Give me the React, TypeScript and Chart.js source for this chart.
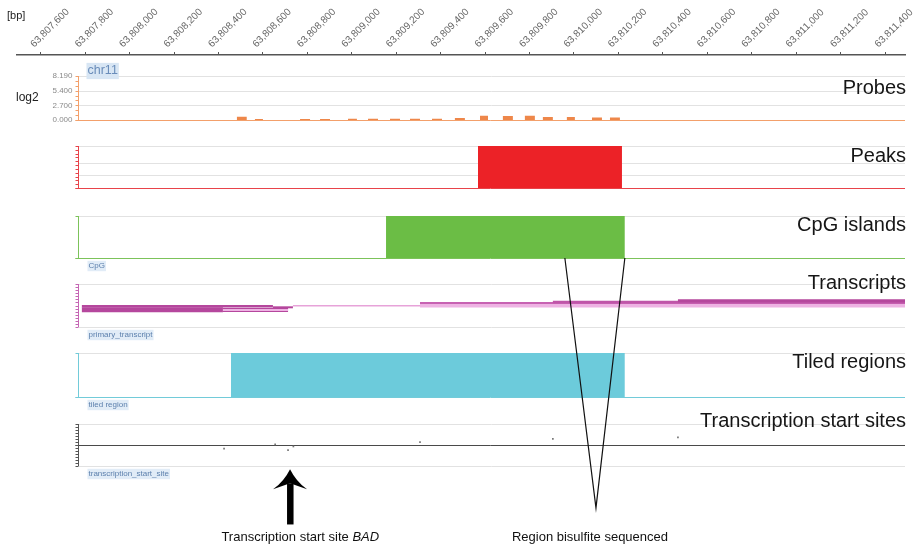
import React, { useEffect, useRef } from 'react';
import { Chart, registerables } from 'chart.js';

Chart.register(...registerables);

const FONT = '"Liberation Sans", Arial, Helvetica, sans-serif';

// ---- genomic x axis (bp) ----
const X_MIN = 63807493;
const X_MAX = 63811490;
const X_TICKS = [
  63807600, 63807800, 63808000, 63808200, 63808400, 63808600, 63808800, 63809000, 63809200, 63809400,
  63809600, 63809800, 63810000, 63810200, 63810400, 63810600, 63810800, 63811000, 63811200, 63811400,
];
const TRACK_AXIS_BP = 63807768;

// ---- Probes (log2) ----
const PROBE_START = [63808482, 63808564, 63808767, 63808857, 63808983, 63809073, 63809172, 63809262, 63809361, 63809464, 63809577, 63809680, 63809779, 63809860, 63809968, 63810081, 63810162];
const PROBE_END = [63808527, 63808600, 63808812, 63808902, 63809023, 63809118, 63809217, 63809307, 63809406, 63809509, 63809613, 63809725, 63809824, 63809905, 63810004, 63810126, 63810207];
const PROBE_LOG2 = [0.6, 0.2, 0.2, 0.2, 0.25, 0.25, 0.25, 0.25, 0.25, 0.35, 0.8, 0.75, 0.8, 0.55, 0.55, 0.45, 0.45];
const PROBE_TICK_LABELS = [0, 2.7, 5.4, 8.19];

// ---- Peaks / CpG islands / Tiled regions ----
const PEAK_START = [63809568];
const PEAK_END = [63810216];
const CPG_START = [63809154];
const CPG_END = [63810229];
const TILED_START = [63808456];
const TILED_END = [63810229];

// ---- Transcripts ----
const TX_START = [63809307, 63809307, 63809905, 63810468, 63808735, 63807785, 63807785, 63808420, 63808420, 63808645];
const TX_END = [63811600, 63811600, 63811600, 63811600, 63809307, 63808420, 63808645, 63808713, 63808713, 63808735];
const TX_LANE = [5.05, 5.58, 5.81, 6.09, 4.95, 4.0, 4.84, 3.95, 3.95, 4.58];
const TX_KIND = [0, 1, 2, 3, 4, 5, 6, 7, 8, 9];

// ---- Transcription start sites ----
const TSS_POS = [63808425, 63808655, 63808713, 63808737, 63809307, 63809905, 63810468];
const TSS_OFFSET = [-0.17, 0.03, -0.24, -0.07, 0.14, 0.29, 0.36];

// ---- annotations ----
const ARROW_BP = 63808722;
const ARROW_TEXT_BP = 63808768;
const REGION_BP = [63809959, 63810229];
const REGION_APEX_BP = 63810099;
const REGION_TEXT_BP = 63810072;

// ---------- styles ----------
const TX_STYLES = [
  { color: '#eeb3e3', width: 4.5 },
  { color: '#c761b2', width: 2 },
  { color: '#bf55a8', width: 2.5 },
  { color: '#b5479d', width: 3 },
  { color: '#e7a3d9', width: 1.5 },
  { color: '#b5479d', width: 5 },
  { color: '#b5479d', width: 2.5 },
  { color: '#b5479d', width: 4 },
  { color: '#eeb3e3', width: 2.2 },
  { color: '#b5479d', width: 2 },
];

const BANDS = [
  { id: 'gap0', h: 21, min: 0, max: 1 },
  { id: 'yProbes', h: 44, min: 0, max: 8.19 },
  { id: 'gap1', h: 26, min: 0, max: 1 },
  { id: 'yPeaks', h: 42, min: 0, max: 1 },
  { id: 'gap2', h: 28, min: 0, max: 1 },
  { id: 'yCpg', h: 42, min: 0, max: 1 },
  { id: 'gap3', h: 26, min: 0, max: 1 },
  { id: 'yTx', h: 43, min: 0, max: 10 },
  { id: 'gap4', h: 26, min: 0, max: 1 },
  { id: 'yTiled', h: 44, min: 0, max: 1 },
  { id: 'gap5', h: 27, min: 0, max: 1 },
  { id: 'yTss', h: 42, min: -1, max: 1 },
  { id: 'yAnnot', h: 79, min: 0, max: 1, reverse: true },
];

const even = (a: number, b: number, n: number) => Array.from({ length: n }, (_, i) => a + ((b - a) * i) / (n - 1));

const TRACKS = [
  { id: 'yProbes', title: 'Probes', titleDy: 12, color: '#f3a06b', grid: [2.7, 5.4, 8.19], base: 0, ticks: even(0, 8.19, 10), feature: '' },
  { id: 'yPeaks', title: 'Peaks', titleDy: 10, color: '#e8434a', grid: [0.3, 0.6, 1], base: 0, ticks: even(0, 1, 12), feature: '' },
  { id: 'yCpg', title: 'CpG islands', titleDy: 9, color: '#7cc35a', grid: [1], base: 0, ticks: [0, 1], feature: 'CpG' },
  { id: 'yTx', title: 'Transcripts', titleDy: -1, color: '#c566b4', grid: [0, 10], base: null, ticks: even(0, 10, 15), feature: 'primary_transcript' },
  { id: 'yTiled', title: 'Tiled regions', titleDy: 9, color: '#72cbd9', grid: [1], base: 0, ticks: [0, 1], feature: 'tiled region' },
  { id: 'yTss', title: 'Transcription start sites', titleDy: -3, color: '#555555', grid: [-1, 1], base: null, ticks: even(-1, 1, 15), feature: 'transcription_start_site' },
];

function rectPoints(starts: number[], ends: number[], heights: number[]) {
  const pts: { x: number; y: number }[] = [];
  starts.forEach((s, i) => {
    const e = ends[i];
    const v = heights[i];
    pts.push({ x: s, y: 0 }, { x: s, y: v }, { x: e, y: v }, { x: e, y: 0 });
  });
  return pts;
}

function highlightText(ctx: CanvasRenderingContext2D, text: string, x: number, y: number, size: number, color: string, bg: string) {
  ctx.font = `${size}px ${FONT}`;
  const w = ctx.measureText(text).width;
  ctx.fillStyle = bg;
  ctx.fillRect(x - 1, y - size * 0.65, w + 2, size * 1.3);
  ctx.fillStyle = color;
  ctx.textAlign = 'left';
  ctx.textBaseline = 'middle';
  ctx.fillText(text, x, y);
}

const decorPlugin = {
  id: 'decor',
  beforeDatasetsDraw(chart: any) {
    const { ctx, chartArea, scales } = chart;
    const ax = Math.round(scales.x.getPixelForValue(TRACK_AXIS_BP)) + 0.5;
    ctx.save();
    TRACKS.forEach((t) => {
      const s = scales[t.id];
      ctx.lineWidth = 1;
      t.grid.forEach((g) => {
        const y = Math.round(s.getPixelForValue(g)) + 0.5;
        ctx.strokeStyle = '#e2e2e2';
        ctx.beginPath();
        ctx.moveTo(ax, y);
        ctx.lineTo(chartArea.right, y);
        ctx.stroke();
      });
      if (t.base !== null) {
        const y = Math.round(s.getPixelForValue(t.base)) + 0.5;
        ctx.strokeStyle = t.color;
        ctx.beginPath();
        ctx.moveTo(ax - 3, y);
        ctx.lineTo(chartArea.right, y);
        ctx.stroke();
      }
      if (t.id === 'yTss') {
        const y = Math.round(s.getPixelForValue(0)) + 0.5;
        ctx.strokeStyle = '#4a4a4a';
        ctx.beginPath();
        ctx.moveTo(ax - 3, y);
        ctx.lineTo(chartArea.right, y);
        ctx.stroke();
      }
    });
    ctx.restore();
  },
  afterDatasetsDraw(chart: any) {
    const { ctx, chartArea, scales } = chart;
    const xs = scales.x;
    const ax = Math.round(xs.getPixelForValue(TRACK_AXIS_BP)) + 0.5;
    ctx.save();
    // track axes
    TRACKS.forEach((t) => {
      const s = scales[t.id];
      ctx.strokeStyle = t.color;
      ctx.lineWidth = 1;
      const yTop = s.getPixelForValue(s.max);
      const yBot = s.getPixelForValue(s.min);
      ctx.beginPath();
      ctx.moveTo(ax, yTop);
      ctx.lineTo(ax, yBot);
      ctx.stroke();
      t.ticks.forEach((v) => {
        const y = Math.round(s.getPixelForValue(v)) + 0.5;
        ctx.beginPath();
        ctx.moveTo(ax - 3, y);
        ctx.lineTo(ax, y);
        ctx.stroke();
      });
      // title
      ctx.fillStyle = '#161616';
      ctx.font = `20px ${FONT}`;
      ctx.textAlign = 'right';
      ctx.textBaseline = 'middle';
      ctx.fillText(t.title, chartArea.right + 1, yTop + t.titleDy);
      if (t.feature) {
        highlightText(ctx, t.feature, ax + 10, yBot + 8, 8, '#5d80ad', '#e1ecf7');
      }
    });
    // probes tick labels
    const ps = scales.yProbes;
    ctx.fillStyle = '#8a8a8a';
    ctx.font = `8px ${FONT}`;
    ctx.textAlign = 'right';
    ctx.textBaseline = 'middle';
    PROBE_TICK_LABELS.forEach((v) => {
      ctx.fillText(v.toFixed(3), ax - 6, ps.getPixelForValue(v));
    });
    ctx.fillStyle = '#222';
    ctx.font = `12px ${FONT}`;
    ctx.textAlign = 'left';
    ctx.fillText('log2', 16, ps.getPixelForValue(4.1));
    highlightText(ctx, 'chr11', ax + 9, ps.getPixelForValue(ps.max) - 5, 12.5, '#6a8dba', '#d8e6f4');
    // [bp]
    ctx.fillStyle = '#222';
    ctx.font = `11px ${FONT}`;
    ctx.textAlign = 'left';
    ctx.textBaseline = 'middle';
    ctx.fillText('[bp]', 7, 16);

    // annotations
    const an = scales.yAnnot;
    const cpg = scales.yCpg;
    // V lines (region bisulfite sequenced)
    const apexX = xs.getPixelForValue(REGION_APEX_BP);
    const apexY = an.getPixelForValue(0.53);
    const vTop = cpg.getPixelForValue(0);
    ctx.strokeStyle = '#111';
    ctx.lineWidth = 1.2;
    ctx.beginPath();
    ctx.moveTo(xs.getPixelForValue(REGION_BP[0]), vTop);
    ctx.lineTo(apexX, apexY);
    ctx.lineTo(xs.getPixelForValue(REGION_BP[1]), vTop);
    ctx.stroke();
    // arrow
    const axp = xs.getPixelForValue(ARROW_BP);
    const tip = an.getPixelForValue(0.04);
    const headBase = an.getPixelForValue(0.27);
    const bottom = an.getPixelForValue(0.74);
    ctx.fillStyle = '#000';
    ctx.fillRect(axp - 3, headBase - 4, 6.5, bottom - headBase + 4);
    ctx.beginPath();
    ctx.moveTo(axp, tip);
    ctx.quadraticCurveTo(axp + 6, headBase - 6, axp + 17, headBase + 2);
    ctx.lineTo(axp, headBase - 4);
    ctx.lineTo(axp - 17, headBase + 2);
    ctx.quadraticCurveTo(axp - 6, headBase - 6, axp, tip);
    ctx.closePath();
    ctx.fill();
    // texts
    const ty = an.getPixelForValue(0.91);
    ctx.fillStyle = '#111';
    ctx.textBaseline = 'middle';
    ctx.font = `13px ${FONT}`;
    const t1 = 'Transcription start site ';
    const w1 = ctx.measureText(t1).width;
    ctx.font = `italic 13px ${FONT}`;
    const w2 = ctx.measureText('BAD').width;
    const cx = xs.getPixelForValue(ARROW_TEXT_BP);
    const left = cx - (w1 + w2) / 2;
    ctx.textAlign = 'left';
    ctx.font = `13px ${FONT}`;
    ctx.fillText(t1, left, ty);
    ctx.font = `italic 13px ${FONT}`;
    ctx.fillText('BAD', left + w1, ty);
    ctx.font = `13px ${FONT}`;
    ctx.textAlign = 'center';
    ctx.fillText('Region bisulfite sequenced', xs.getPixelForValue(REGION_TEXT_BP), ty);
    ctx.restore();
  },
};

function buildConfig(): any {
  const scales: any = {
    x: {
      type: 'linear',
      position: 'top',
      min: X_MIN,
      max: X_MAX,
      afterBuildTicks: (s: any) => {
        s.ticks = X_TICKS.map((v) => ({ value: v }));
      },
      afterFit: (s: any) => {
        s.height = 47;
        s.paddingLeft = 0;
        s.paddingRight = 0;
      },
      ticks: {
        autoSkip: false,
        minRotation: 45,
        maxRotation: 45,
        padding: 2,
        color: '#666',
        font: { family: FONT, size: 10 },
        callback: (v: any) => Number(v).toLocaleString('en-US'),
      },
      grid: { drawOnChartArea: false, drawTicks: true, tickLength: 3, color: '#555', lineWidth: 1 },
      border: { display: true, color: '#555', width: 1.5 },
    },
  };
  BANDS.forEach((b, i) => {
    scales[b.id] = {
      type: 'linear',
      display: false,
      position: 'left',
      stack: 'tracks',
      stackWeight: b.h,
      weight: 100 - i,
      min: b.min,
      max: b.max,
      reverse: !!b.reverse,
    };
  });

  const datasets: any[] = [];
  const fillSet = (pts: any[], axis: string, color: string) => ({
    type: 'line',
    data: pts,
    yAxisID: axis,
    fill: 'origin',
    backgroundColor: color,
    borderWidth: 0,
    pointRadius: 0,
    tension: 0,
  });
  datasets.push(fillSet(rectPoints(PROBE_START, PROBE_END, PROBE_LOG2), 'yProbes', '#ee874a'));
  datasets.push(fillSet(rectPoints(PEAK_START, PEAK_END, PEAK_START.map(() => 1)), 'yPeaks', '#ec2227'));
  datasets.push(fillSet(rectPoints(CPG_START, CPG_END, CPG_START.map(() => 1)), 'yCpg', '#6bbd45'));
  datasets.push(fillSet(rectPoints(TILED_START, TILED_END, TILED_START.map(() => 1)), 'yTiled', '#6ccbdb'));
  TX_START.forEach((s, i) => {
    const st = TX_STYLES[TX_KIND[i]];
    datasets.push({
      type: 'line',
      data: [
        { x: s, y: TX_LANE[i] },
        { x: TX_END[i], y: TX_LANE[i] },
      ],
      yAxisID: 'yTx',
      borderColor: st.color,
      borderWidth: st.width,
      borderCapStyle: 'butt',
      pointRadius: 0,
      fill: false,
    });
  });
  datasets.push({
    type: 'scatter',
    data: TSS_POS.map((p, i) => ({ x: p, y: TSS_OFFSET[i] })),
    yAxisID: 'yTss',
    pointStyle: 'rect',
    pointRadius: 1.2,
    backgroundColor: '#777',
    borderWidth: 0,
  });
  datasets.forEach((d, i) => {
    d.order = -i;
  });

  return {
    type: 'line',
    data: { datasets },
    options: {
      responsive: false,
      animation: false,
      devicePixelRatio: 1,
      events: [],
      layout: { padding: { left: 17, right: 12, top: 8, bottom: 4 } },
      plugins: { legend: { display: false }, tooltip: { enabled: false } },
      scales,
    },
    plugins: [decorPlugin],
  };
}

export default function App() {
  const ref = useRef<HTMLCanvasElement>(null);
  useEffect(() => {
    const canvas = ref.current;
    if (!canvas) return;
    const chart = new Chart(canvas, buildConfig());
    return () => chart.destroy();
  }, []);
  return (
    <div style={{ position: 'fixed', left: 0, top: 0, width: 917, height: 549, background: '#fff' }}>
      <canvas ref={ref} width={917} height={549} style={{ display: 'block', width: 917, height: 549 }} />
    </div>
  );
}
